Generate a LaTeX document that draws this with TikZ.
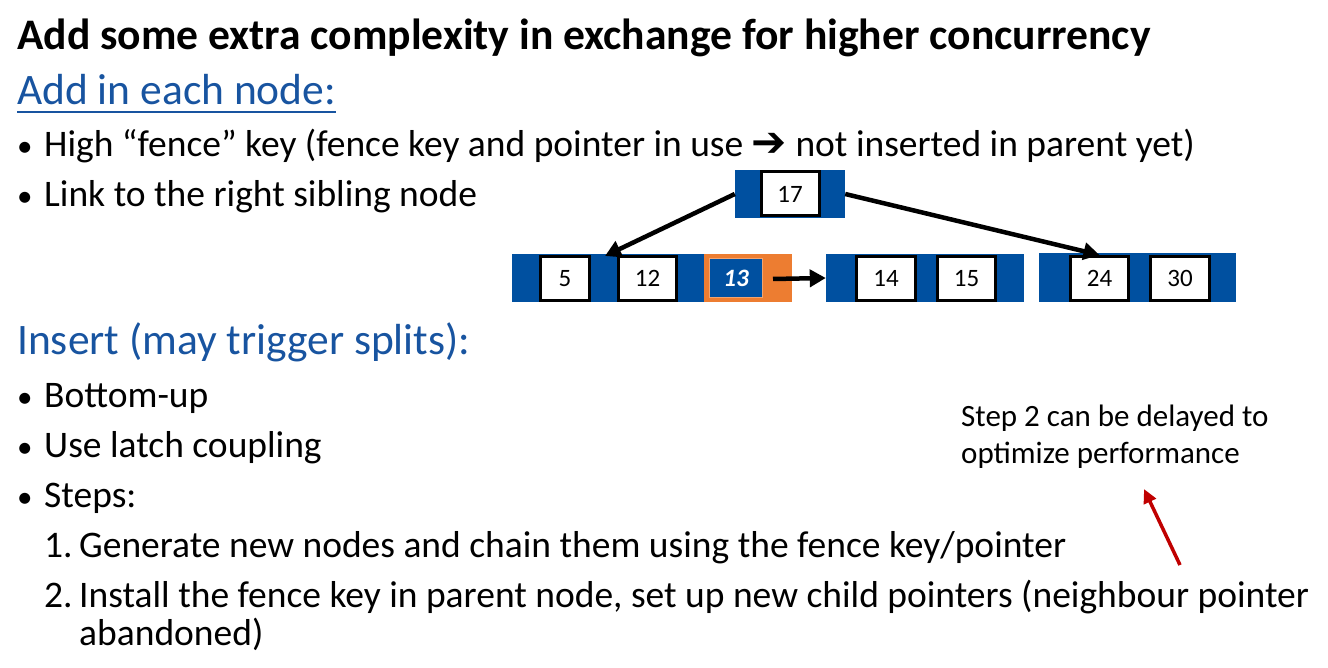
\documentclass[tikz,border=0pt]{standalone}
\usepackage{fontspec}
\setmainfont{Carlito}
\newfontfamily\symfont{DejaVu Sans}
\usetikzlibrary{arrows.meta}
\definecolor{hdrblue}{RGB}{24,84,160}
\definecolor{nodeblue}{RGB}{0,80,160}
\definecolor{fenceorange}{RGB}{237,125,49}
\definecolor{notered}{RGB}{192,0,0}
\tikzset{
  txt/.style={anchor=base west, inner sep=0, font=\fontsize{37.5}{44}\selectfont},
  hdr/.style={txt, text=hdrblue, font=\fontsize{43.5}{50}\selectfont},
  notetxt/.style={anchor=base west, inner sep=0, font=\fontsize{31}{37}\selectfont},
  blueblock/.style={fill=nodeblue, draw=none, inner sep=0},
  keybox/.style={draw=black, fill=white, line width=3, minimum width=58, minimum height=44,
    inner sep=0, font=\fontsize{25}{27}\selectfont},
  ptr/.style={line width=4.5, -{Triangle[length=16, width=17]}}
}
\newcommand{\bul}{\makebox[27pt][l]{\fontsize{31}{31}\selectfont•}}
\newcommand{\num}[1]{\makebox[35pt][l]{#1}}
\begin{document}
\begin{tikzpicture}[x=1pt, y=-1pt]
  \useasboundingbox (0,0) rectangle (1328,668);
  \node[txt, font=\fontsize{43.6}{50}\selectfont\bfseries] (title) at (17,50)
    {Add some extra complexity in exchange for higher concurrency};
  \node[hdr] (hdr1) at (17,105) {Add in each node:};
  \draw[hdrblue, line width=2.5] ([yshift=-7]hdr1.base west) -- ([yshift=-7]hdr1.base east);
  \node[txt] (b1) at (17,157) {\bul High “fence” key (fence key and pointer in use {\symfont\bfseries\fontsize{42}{44}\selectfont ➔} not inserted in parent yet)};
  \node[txt] (b2) at (17,207) {\bul Link to the right sibling node};
  \node[hdr] (hdr2) at (17,355) {Insert (may trigger splits):};
  \node[txt] (b3) at (17,407) {\bul Bottom-up};
  \node[txt] (b4) at (17,457) {\bul Use latch coupling};
  \node[txt] (b5) at (17,507) {\bul Steps:};
  \node[txt] (s1) at (44,557) {\num{1.}Generate new nodes and chain them using the fence key/pointer};
  \node[txt] (s2) at (44,607) {\num{2.}Install the fence key in parent node, set up new child pointers (neighbour pointer};
  \node[txt] (s2b) at (79,645) {abandoned)};

  \node[blueblock, minimum width=110, minimum height=48] (root) at (790,194) {};
  \node[blueblock, minimum width=192, minimum height=48] (leafA) at (608,278) {};
  \node[fill=fenceorange, inner sep=0, minimum width=88, minimum height=48] (fence) at (748,278) {};
  \node[blueblock, minimum width=198, minimum height=48] (leafB) at (925,278) {};
  \node[blueblock, minimum width=197, minimum height=49] (leafC) at (1137.5,277.5) {};
  \foreach \k/\x/\w in {5/565/49, 12/647.5/58, 14/886/59, 15/966.5/58, 24/1099.5/58, 30/1180/59}
    \node[keybox, minimum width=\w] (k\k) at (\x,278.5) {\k};
  \node[keybox] (k17) at (790,194) {17};
  \node[fill=nodeblue, draw=fenceorange!70!white, line width=1, minimum width=53, minimum height=39,
    inner sep=0, text=white, font=\fontsize{25}{27}\selectfont\bfseries\itshape] (k13) at (736,278) {13};

  \coordinate (tipA) at (605,256);
  \coordinate (linkstart) at (773,279);
  \draw[ptr] (root.west) -- (tipA);
  \draw[ptr] (root.east) -- (k24.north);
  \draw[ptr] (linkstart) -- (leafB.west);

  \node[notetxt] (note1) at (961,426) {Step 2 can be delayed to};
  \node[notetxt] (note2) at (961,463) {optimize performance};
  \coordinate (redtail) at (1180,565);
  \coordinate (redtip) at (1144,489);
  \draw[notered, line width=3.5, -{Triangle[length=14, width=13]}] (redtail) -- (redtip);
\end{tikzpicture}
\end{document}
